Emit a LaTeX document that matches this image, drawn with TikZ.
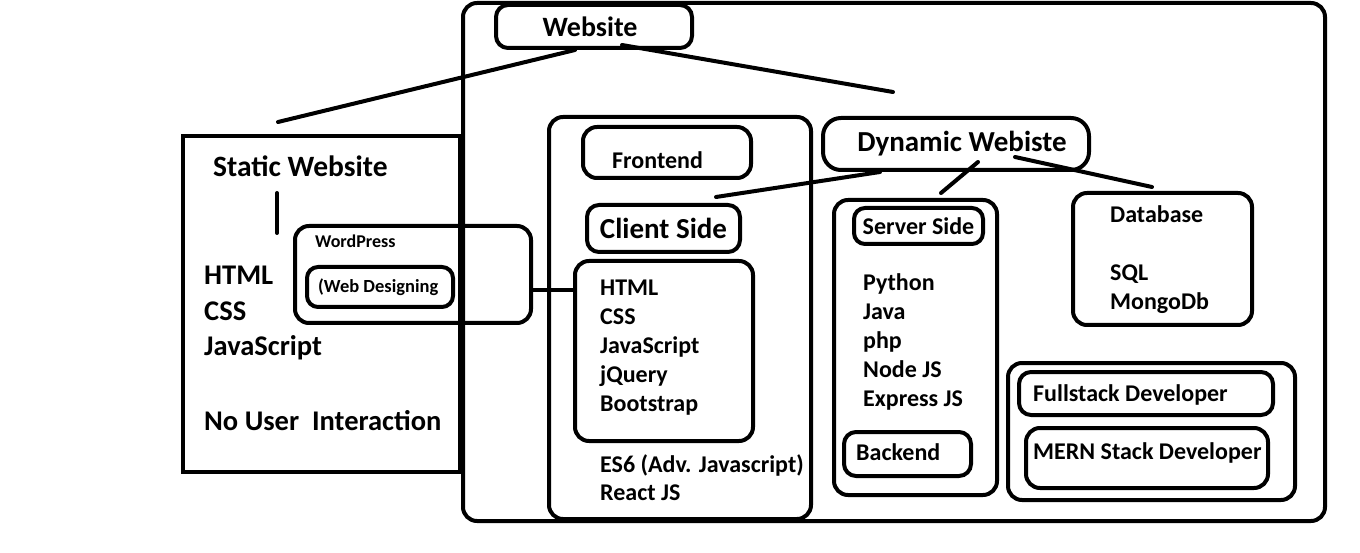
\documentclass[tikz,border=0pt]{standalone}
\usepackage{fontspec}
\setmainfont{Carlito}
\usetikzlibrary{positioning}
\tikzset{
    base/.style =   {
                        draw=black, line width=4pt, rounded corners=14pt,
                        inner sep=0pt, font=\bfseries
                    },
    frame/.style = {base},
    title_box/.style = {base, font=\fontsize{29}{33}\selectfont\bfseries},
    item_box/.style = {base, font=\fontsize{24}{28}\selectfont\bfseries},
    item/.style = {anchor=west, inner sep=0pt, align=left, font=\fontsize{24}{29}\selectfont\bfseries},
    big_item/.style = {item, font=\fontsize{28.5}{35.5}\selectfont\bfseries},
    small_item/.style = {item, font=\fontsize{18}{20}\selectfont\bfseries},
    link/.style = {line width=4pt, line cap=round}
}

\begin{document}
\begin{tikzpicture}[x=1pt, y=-1pt]
    \useasboundingbox (0,0) rectangle (1360,553);

    % outer frame and top
    \node (site_frame)   [frame, minimum width=862pt, minimum height=518pt] at (894,262) {};
    \node (website)      [title_box, font=\fontsize{28}{32}\selectfont\bfseries, minimum width=196pt, minimum height=43pt, rounded corners=12pt] at (594,26.5) {\hspace*{-8pt}Website};

    % static website
    \node (static_box)   [frame, sharp corners, minimum width=277pt, minimum height=336pt] at (321.5,304) {};
    \node (static_title) [big_item, font=\fontsize{29.5}{34}\selectfont\bfseries] at (213,166) {Static Website};
    \node (static_list)  [big_item] at (204,313.5) {HTML\\CSS\\JavaScript};
    \node (no_user)      [big_item] at (204,421) {No User\ \ Interaction};
    \coordinate (static_top) at (278,122);
    \coordinate (static_stem) at (277,193);
    \coordinate (static_stem_end) at (277,233);

    % wordpress
    \node (wp_box)       [frame, minimum width=236pt, minimum height=97pt] at (413,274.5) {};
    \node (wp_title)     [small_item] at (315,241) {WordPress};
    \node (web_design)   [frame, minimum width=146pt, minimum height=40pt, rounded corners=11pt] at (380,287) {};
    \node (web_text)     [small_item, font=\fontsize{18.5}{20}\selectfont\bfseries] at (318,287) {(Web Designing};

    % frontend column
    \node (front_frame)  [frame, minimum width=262pt, minimum height=402pt] at (680,318) {};
    \node (frontend)     [frame, minimum width=168pt, minimum height=51pt] at (667,152.5) {};
    \node (front_text)   [item] at (612,160) {Frontend};
    \node (client_side)  [title_box, minimum width=153pt, minimum height=47pt, rounded corners=12pt] at (663.5,228.5) {Client Side};
    \node (client_box)   [frame, minimum width=178pt, minimum height=180pt] at (664,351) {};
    \node (client_list)  [item] at (600,348) {HTML\\CSS\\JavaScript\\jQuery\\Bootstrap};
    \node (client_extra) [item, font=\fontsize{24}{28}\selectfont\bfseries] at (600,478) {ES6 (Adv. Javascript)\\React JS};
    \coordinate (client_top) at (716,197);

    % dynamic website
    \node (dynamic)      [title_box, minimum width=266pt, minimum height=52pt, rounded corners=18pt] at (956,144) {\hspace*{12pt}Dynamic Webiste};

    % server side
    \node (server_frame) [frame, minimum width=163pt, minimum height=295pt] at (915.5,347.5) {};
    \node (server_side)  [item_box, minimum width=129pt, minimum height=36pt, rounded corners=11pt] at (918.5,226) {Server Side};
    \node (server_list)  [item] at (863,342) {Python\\Java\\php\\Node JS\\Express JS};
    \node (backend)      [frame, minimum width=127pt, minimum height=44pt, rounded corners=12pt] at (907.5,454) {};
    \node (backend_text) [item] at (856,452) {Backend};
    \coordinate (server_top) at (941,193);

    % database
    \node (db_box)       [frame, minimum width=179pt, minimum height=132pt] at (1162.5,259) {};
    \node (db_list)      [item] at (1110,259.5) {Database\\[29pt]SQL\\MongoDb};
    \coordinate (db_top) at (1152,187);

    % developers
    \node (dev_frame)    [frame, minimum width=287pt, minimum height=137pt] at (1151.5,431.5) {};
    \node (fullstack)    [frame, minimum width=254pt, minimum height=43pt, rounded corners=12pt] at (1146,393.5) {};
    \node (full_text)    [item] at (1033,395) {Fullstack Developer};
    \node (mern)         [frame, minimum width=242pt, minimum height=60pt, rounded corners=14pt] at (1147,458) {};
    \node (mern_text)    [item] at (1033,453) {MERN Stack Developer};

    % connectors
    \coordinate (site_right) at (893,92);
    \draw[link]          ([xshift=-19pt]website.south) -- (static_top);
    \draw[link]          ([xshift=28pt,yshift=5pt]website.south) -- (site_right);
    \draw[link]          (static_stem) -- (static_stem_end);
    \draw[link]          ([yshift=-15.5pt]wp_box.east) -- ([yshift=-15.5pt]wp_box.east -| client_box.west);
    \draw[link]          ([xshift=-76pt]dynamic.south) -- (client_top);
    \draw[link]          ([xshift=22pt,yshift=10pt]dynamic.south) -- (server_top);
    \draw[link]          ([xshift=59pt,yshift=15pt]dynamic.south) -- (db_top);
\end{tikzpicture}
\end{document}
